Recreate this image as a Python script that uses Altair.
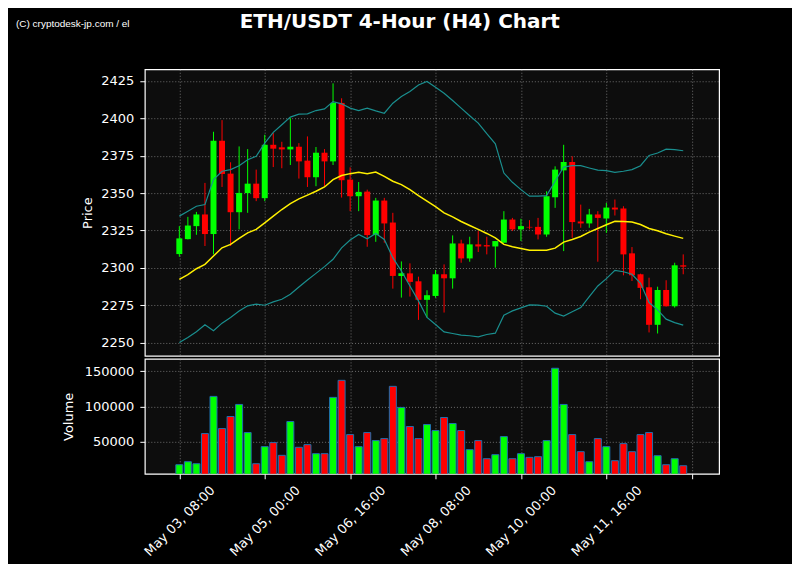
import altair as alt
import pandas as pd

# ---- data (60 four-hour candles) ----
opens = [2309.2, 2319.2, 2327.9, 2335.7, 2322.6, 2385.0, 2363.0, 2337.2, 2350.0, 2356.3,
         2346.6, 2382.3, 2380.6, 2379.2, 2381.0, 2371.7, 2360.6, 2377.0, 2371.2, 2410.3,
         2359.0, 2347.9, 2351.0, 2321.9, 2345.0, 2330.3, 2294.6, 2296.3, 2291.0, 2278.6,
         2281.2, 2295.7, 2293.0, 2316.3, 2306.3, 2315.7, 2315.2, 2314.3, 2316.8, 2332.3,
         2325.7, 2327.4, 2327.4, 2322.3, 2347.2, 2365.2, 2370.8, 2331.0, 2329.7, 2335.7,
         2333.0, 2340.3, 2339.7, 2309.7, 2295.7, 2287.0, 2261.9, 2285.2, 2274.3, 2301.7]
highs = [2327.9, 2334.1, 2337.4, 2356.8, 2391.0, 2398.8, 2370.6, 2381.2, 2379.4, 2365.7,
         2389.0, 2390.1, 2384.3, 2400.1, 2383.4, 2387.9, 2380.8, 2379.4, 2423.4, 2413.4,
         2367.2, 2357.4, 2352.3, 2346.8, 2346.8, 2336.8, 2304.3, 2303.0, 2294.1, 2285.0,
         2298.6, 2302.3, 2321.7, 2318.8, 2320.8, 2324.6, 2320.8, 2317.9, 2337.9, 2333.4,
         2332.8, 2331.9, 2333.4, 2351.2, 2367.9, 2382.3, 2374.6, 2342.3, 2339.4, 2337.9,
         2343.4, 2345.7, 2341.2, 2313.9, 2296.1, 2293.4, 2287.4, 2291.7, 2303.4, 2309.0]
lows = [2307.4, 2319.0, 2322.1, 2314.6, 2309.0, 2354.1, 2314.6, 2325.7, 2336.8, 2344.6,
        2344.6, 2367.4, 2366.6, 2368.8, 2359.7, 2354.1, 2354.6, 2354.6, 2368.8, 2347.0,
        2337.9, 2337.9, 2314.1, 2317.4, 2316.8, 2286.1, 2280.1, 2280.8, 2265.2, 2266.8,
        2280.0, 2270.1, 2286.1, 2303.4, 2304.1, 2310.6, 2309.0, 2300.1, 2316.8, 2324.6,
        2317.9, 2325.7, 2319.0, 2320.8, 2340.1, 2311.2, 2320.1, 2326.8, 2326.8, 2304.1,
        2323.4, 2335.0, 2295.0, 2291.2, 2279.0, 2256.8, 2256.1, 2274.1, 2273.4, 2295.7]
closes = [2319.7, 2328.3, 2335.7, 2322.6, 2385.0, 2362.8, 2337.2, 2350.1, 2356.3, 2346.6,
          2382.3, 2379.7, 2379.2, 2381.0, 2371.2, 2360.6, 2377.0, 2371.2, 2410.3, 2358.6,
          2347.9, 2350.8, 2321.9, 2345.0, 2329.7, 2294.6, 2296.3, 2290.6, 2278.6, 2281.7,
          2295.7, 2293.0, 2316.3, 2306.3, 2315.7, 2314.3, 2314.3, 2317.9, 2332.3, 2325.7,
          2327.9, 2327.0, 2322.3, 2347.9, 2365.7, 2370.8, 2330.6, 2329.7, 2335.7, 2333.4,
          2340.3, 2339.0, 2309.0, 2295.0, 2286.6, 2261.9, 2285.2, 2274.3, 2301.7, 2300.8]
volumes = [17143, 21429, 18571, 61429, 114286, 68571, 85714, 102857, 62857, 18571,
           42857, 48571, 30476, 78571, 41905, 45714, 32857, 32857, 112857, 137143,
           60000, 42857, 62857, 51429, 54286, 128571, 98571, 71429, 54286, 74286,
           65714, 84286, 75714, 65714, 38571, 51429, 25714, 31429, 57143, 25714,
           32857, 27619, 28571, 51429, 154286, 102857, 60000, 35714, 21429, 54286,
           42857, 22857, 47143, 35714, 60000, 62857, 30000, 17143, 25714, 15714]
sma = [2292.3, 2295.4, 2299.4, 2302.3, 2307.9, 2313.4, 2315.7, 2319.7, 2323.4, 2325.7,
       2330.1, 2334.6, 2339.0, 2343.0, 2346.1, 2348.6, 2351.2, 2354.1, 2359.0, 2361.7,
       2363.0, 2363.9, 2363.0, 2364.1, 2361.2, 2357.9, 2355.7, 2352.3, 2348.3, 2344.6,
       2341.0, 2336.8, 2334.1, 2331.0, 2328.3, 2325.7, 2323.0, 2320.1, 2315.7, 2314.1,
       2313.0, 2311.7, 2311.7, 2311.7, 2313.2, 2317.2, 2319.0, 2321.0, 2323.9, 2326.3,
       2328.8, 2331.2, 2331.0, 2330.6, 2329.0, 2326.3, 2324.8, 2322.8, 2321.2, 2319.7]
bb_upper = [2334.6, 2337.9, 2341.2, 2342.3, 2359.0, 2364.6, 2365.7, 2368.3, 2372.3, 2374.6,
            2383.4, 2390.6, 2395.7, 2400.8, 2402.8, 2403.0, 2405.2, 2406.3, 2411.2, 2409.7,
            2406.8, 2405.2, 2406.8, 2405.0, 2403.4, 2410.1, 2414.6, 2417.9, 2422.3, 2424.6,
            2420.8, 2416.8, 2411.9, 2406.8, 2401.7, 2396.8, 2389.7, 2383.0, 2363.4, 2357.2,
            2352.3, 2347.9, 2347.9, 2348.3, 2357.9, 2367.4, 2368.3, 2368.3, 2366.8, 2365.4,
            2365.0, 2363.9, 2364.6, 2365.7, 2368.3, 2375.2, 2376.8, 2379.4, 2379.0, 2378.3]
bb_lower = [2250.1, 2253.4, 2257.2, 2261.9, 2257.9, 2263.0, 2266.8, 2271.2, 2274.6, 2275.7,
            2275.0, 2277.2, 2279.0, 2282.3, 2287.2, 2291.9, 2296.3, 2300.8, 2305.7, 2313.4,
            2318.6, 2322.3, 2319.4, 2323.0, 2319.0, 2306.8, 2297.9, 2287.9, 2277.9, 2266.8,
            2262.1, 2257.2, 2256.1, 2255.0, 2254.6, 2253.9, 2255.4, 2256.3, 2268.3, 2271.2,
            2273.2, 2275.2, 2275.0, 2274.3, 2269.7, 2267.7, 2270.6, 2273.4, 2280.8, 2287.9,
            2292.8, 2298.3, 2297.4, 2295.7, 2289.7, 2276.8, 2271.9, 2265.7, 2263.4, 2261.7]
tick_positions = [0, 10, 20, 30, 40, 50, 60]
tick_labels = ["May 03, 08:00", "May 05, 00:00", "May 06, 16:00", "May 08, 08:00",
               "May 10, 00:00", "May 11, 16:00", ""]
price_ticks = [2250, 2275, 2300, 2325, 2350, 2375, 2400, 2425]
volume_ticks = [50000, 100000, 150000]
title_text = "ETH/USDT 4-Hour (H4) Chart"
credit_text = "(C) cryptodesk-jp.com / el"

df = pd.DataFrame({
    "i": list(range(len(opens))),
    "open": opens, "high": highs, "low": lows, "close": closes,
    "volume": volumes, "sma": sma, "upper": bb_upper, "lower": bb_lower,
})

GREEN = "#00ff00"
RED = "#ff0000"
color_cond = alt.condition("datum.close >= datum.open", alt.value(GREEN), alt.value(RED))

label_expr = ""
for p, l in zip(tick_positions, tick_labels):
    label_expr += f"datum.value == {p} ? '{l}' : "
label_expr += "''"

x_dom = [-4.04, 63.2]
W = 575

x_top = alt.X("i:Q", scale=alt.Scale(domain=x_dom, nice=False, zero=False, padding=0),
              axis=alt.Axis(values=tick_positions, labels=False, ticks=False, domain=False,
                            title=None, grid=True))
y_price = alt.Y("low:Q", scale=alt.Scale(domain=[2241.1, 2432.8], nice=False, zero=False,
                                         padding=0),
                axis=alt.Axis(values=price_ticks, format="d", title="Price", grid=True,
                              domain=False, titlePadding=6))

base = alt.Chart(df)
wicks = base.mark_rule(strokeWidth=1).encode(
    x=x_top, y=y_price, y2="high:Q", color=color_cond)
bodies = base.mark_bar(size=6).encode(
    x=x_top, y=alt.Y("open:Q"), y2="close:Q", color=color_cond)
upper = base.mark_line(color="#1a8f8f", strokeWidth=1.2).encode(x=x_top, y="upper:Q")
lower = base.mark_line(color="#1a8f8f", strokeWidth=1.2).encode(x=x_top, y="lower:Q")
mid = base.mark_line(color="#fff000", strokeWidth=1.5).encode(x=x_top, y="sma:Q")

title_layer = alt.Chart(pd.DataFrame({"t": [title_text]})).mark_text(
    font="DejaVu Sans", fontSize=20, fontWeight="bold", color="white",
    align="center", baseline="alphabetic").encode(
    x=alt.value(255.3), y=alt.value(-41.3), text="t:N")
credit_layer = alt.Chart(pd.DataFrame({"t": [credit_text]})).mark_text(
    font="Liberation Sans", fontSize=10, color="white",
    align="left", baseline="alphabetic").encode(
    x=alt.value(-129.0), y=alt.value(-42.0), text="t:N")

price = alt.layer(wicks, bodies, upper, lower, mid, title_layer, credit_layer).properties(
    width=W, height=287)

x_bot = alt.X("i:Q", scale=alt.Scale(domain=x_dom, nice=False, zero=False, padding=0),
              axis=alt.Axis(values=tick_positions, labelExpr=label_expr, labelAngle=-45,
                            labelAlign="center", labelBaseline="middle", labelPadding=42,
                            labelOverlap=False, labelFlush=False, labelBound=False,
                            tickSize=5, title=None, grid=True, domain=False))
vol = base.mark_bar(size=7, stroke="#1f6fb0", strokeWidth=1, clip=True).encode(
    x=x_bot,
    y=alt.Y("volume:Q", scale=alt.Scale(domain=[4286, 167600], nice=False, zero=False,
                                        padding=0),
            axis=alt.Axis(values=volume_ticks, format="d", title="Volume", grid=True,
                          domain=False, titlePadding=9)),
    color=color_cond,
).properties(width=W, height=115)

chart = alt.vconcat(price, vol, spacing=1).properties(
    background="black",
    padding={"left": 7, "top": 3, "right": 72, "bottom": 4},
).configure(font="DejaVu Sans").configure_view(
    fill="#0d0d0d", stroke="white", strokeWidth=1.2
).configure_scale(continuousPadding=0).configure_axis(
    labelColor="white", labelFontSize=13, labelPadding=6,
    tickColor="white", tickSize=5, tickWidth=1,
    titleColor="white", titleFontSize=13, titleFontWeight="normal",
    gridColor="#b0b0b0", gridDash=[1, 2], gridWidth=0.8, gridOpacity=0.75,
)

chart.save("out.html", embed_options={"renderer": "svg", "actions": False})
